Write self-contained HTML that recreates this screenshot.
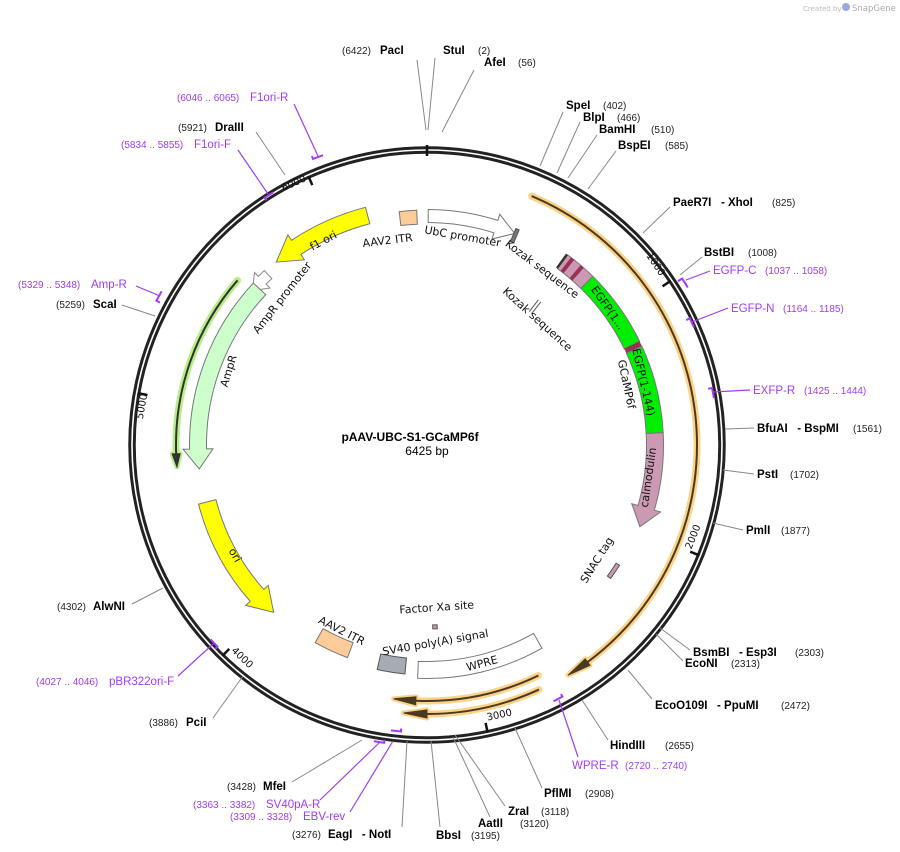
<!DOCTYPE html>
<html><head><meta charset="utf-8"><style>
html,body{margin:0;padding:0;background:#fff;}
svg{display:block;}
text{font-family:"DejaVu Sans","Liberation Sans",sans-serif;}
.b{font-family:"Liberation Sans",sans-serif;font-weight:bold;font-size:11.5px;fill:#000;}
.n{font-family:"Liberation Sans",sans-serif;font-size:10px;fill:#222;}
.p{font-family:"Liberation Sans",sans-serif;font-size:11.5px;fill:#a23cf0;}
.pn{font-family:"Liberation Sans",sans-serif;font-size:10px;fill:#a23cf0;}
.f{font-size:11px;fill:#111;}
.t{font-size:10px;fill:#111;}
</style></head><body>
<svg id="s" width="900" height="852" viewBox="0 0 900 852" xmlns="http://www.w3.org/2000/svg">
<text x="803" y="11" style="font-size:7px;fill:#bbb">Created by</text>
<circle cx="846" cy="7" r="4" fill="#9ad"/>
<text x="852" y="11" style="font-size:8.5px;fill:#aaa">SnapGene</text>
<g id="g"></g>
<g stroke="#888" stroke-width="1" fill="none">
<line x1="426" y1="130" x2="417" y2="60"/><line x1="428" y1="130" x2="435" y2="58"/><line x1="442" y1="132" x2="474" y2="70"/>
<line x1="540" y1="166" x2="563" y2="112"/><line x1="557" y1="173" x2="580" y2="122"/><line x1="568" y1="178" x2="597" y2="135"/><line x1="588" y1="189" x2="616" y2="151"/>
<line x1="643" y1="233" x2="670" y2="207"/><line x1="680" y1="275" x2="702" y2="257"/>
<line x1="725" y1="429" x2="754" y2="428"/><line x1="723" y1="470" x2="754" y2="474"/><line x1="713" y1="523" x2="743" y2="530"/>
<line x1="660" y1="628" x2="690" y2="650"/><line x1="656" y1="634" x2="683" y2="661"/><line x1="628" y1="670" x2="652" y2="699"/><line x1="582" y1="700" x2="608" y2="740"/>
<line x1="515" y1="728" x2="542" y2="788"/><line x1="455" y1="735" x2="505" y2="806"/><line x1="453" y1="737" x2="490" y2="817"/><line x1="431" y1="741" x2="440" y2="827"/><line x1="407" y1="741" x2="402" y2="827"/>
<line x1="362" y1="740" x2="292" y2="782"/><line x1="243" y1="676" x2="213" y2="718"/><line x1="163" y1="588" x2="132" y2="604"/><line x1="155" y1="316" x2="122" y2="305"/>
<line x1="285" y1="175" x2="256" y2="132"/>
</g>
<g stroke="#a23cf0" stroke-width="1.2" fill="none">
<line x1="318" y1="156" x2="294" y2="104"/><line x1="268" y1="194" x2="238" y2="150"/><line x1="160" y1="296" x2="136" y2="286"/>
<line x1="686" y1="280" x2="710" y2="271"/><line x1="692" y1="322" x2="728" y2="308"/><line x1="713" y1="392" x2="750" y2="390"/>
<line x1="559" y1="700" x2="578" y2="757"/><line x1="213" y1="644" x2="178" y2="676"/><line x1="380" y1="742" x2="320" y2="800"/><line x1="393" y1="741" x2="350" y2="812"/>
</g>
<text x="342" y="54" class="n">(6422)</text><text x="380" y="54" class="b">PacI</text>
<text x="443" y="54" class="b">StuI</text><text x="478" y="54" class="n">(2)</text>
<text x="484" y="66" class="b">AfeI</text><text x="518" y="66" class="n">(56)</text>
<text x="566" y="109" class="b">SpeI</text><text x="603" y="109" class="n">(402)</text>
<text x="583" y="121" class="b">BlpI</text><text x="617" y="121" class="n">(466)</text>
<text x="599" y="133" class="b">BamHI</text><text x="651" y="133" class="n">(510)</text>
<text x="618" y="149" class="b">BspEI</text><text x="665" y="149" class="n">(585)</text>
<text x="673" y="206" class="b" xml:space="preserve">PaeR7I   - XhoI</text><text x="772" y="206" class="n">(825)</text>
<text x="704" y="256" class="b">BstBI</text><text x="748" y="256" class="n">(1008)</text>
<text x="713" y="274" class="p">EGFP-C</text><text x="765" y="274" class="pn">(1037 .. 1058)</text>
<text x="731" y="312" class="p">EGFP-N</text><text x="783" y="312" class="pn">(1164 .. 1185)</text>
<text x="753" y="394" class="p">EXFP-R</text><text x="804" y="394" class="pn">(1425 .. 1444)</text>
<text x="757" y="432" class="b" xml:space="preserve">BfuAI   - BspMI</text><text x="853" y="432" class="n">(1561)</text>
<text x="757" y="478" class="b">PstI</text><text x="790" y="478" class="n">(1702)</text>
<text x="746" y="534" class="b">PmlI</text><text x="781" y="534" class="n">(1877)</text>
<text x="693" y="656" class="b" xml:space="preserve">BsmBI   - Esp3I</text><text x="795" y="656" class="n">(2303)</text>
<text x="685" y="667" class="b">EcoNI</text><text x="731" y="667" class="n">(2313)</text>
<text x="655" y="709" class="b" xml:space="preserve">EcoO109I   - PpuMI</text><text x="781" y="709" class="n">(2472)</text>
<text x="610" y="749" class="b">HindIII</text><text x="665" y="749" class="n">(2655)</text>
<text x="572" y="769" class="p">WPRE-R</text><text x="625" y="769" class="pn">(2720 .. 2740)</text>
<text x="544" y="797" class="b">PflMI</text><text x="585" y="797" class="n">(2908)</text>
<text x="508" y="815" class="b">ZraI</text><text x="541" y="815" class="n">(3118)</text>
<text x="478" y="827" class="b">AatII</text><text x="520" y="827" class="n">(3120)</text>
<text x="436" y="839" class="b">BbsI</text><text x="471" y="839" class="n">(3195)</text>
<text x="292" y="838" class="n">(3276)</text><text x="328" y="838" class="b" xml:space="preserve">EagI   - NotI</text>
<text x="230" y="820" class="pn">(3309 .. 3328)</text><text x="303" y="820" class="p">EBV-rev</text>
<text x="193" y="808" class="pn">(3363 .. 3382)</text><text x="266" y="808" class="p">SV40pA-R</text>
<text x="227" y="790" class="n">(3428)</text><text x="263" y="790" class="b">MfeI</text>
<text x="149" y="726" class="n">(3886)</text><text x="186" y="726" class="b">PciI</text>
<text x="36" y="685" class="pn">(4027 .. 4046)</text><text x="109" y="685" class="p">pBR322ori-F</text>
<text x="57" y="610" class="n">(4302)</text><text x="93" y="610" class="b">AlwNI</text>
<text x="56" y="308" class="n">(5259)</text><text x="93" y="308" class="b">ScaI</text>
<text x="18" y="288" class="pn">(5329 .. 5348)</text><text x="91" y="288" class="p">Amp-R</text>
<text x="121" y="148" class="pn">(5834 .. 5855)</text><text x="194" y="148" class="p">F1ori-F</text>
<text x="178" y="131" class="n">(5921)</text><text x="215" y="131" class="b">DraIII</text>
<text x="177" y="101" class="pn">(6046 .. 6065)</text><text x="250" y="101" class="p">F1ori-R</text>
<text x="410" y="441" text-anchor="middle" style="font-family:'Liberation Sans',sans-serif;font-size:12px;font-weight:bold">pAAV-UBC-S1-GCaMP6f</text>
<text x="427" y="455" text-anchor="middle" style="font-family:'Liberation Sans',sans-serif;font-size:12px">6425 bp</text>
<text class="f" transform="translate(462,240) rotate(10)" text-anchor="middle">UbC promoter</text>
<text class="f" transform="translate(540,272) rotate(37)" text-anchor="middle">Kozak sequence</text>
<text class="f" transform="translate(535,322) rotate(42)" text-anchor="middle">Kozak sequence</text>
<text class="f" transform="translate(623,385) rotate(78)" text-anchor="middle">GCaMP6f</text>
<text class="f" transform="translate(605,310) rotate(55)" text-anchor="middle">EGFP(1...</text>
<text class="f" transform="translate(640,383) rotate(77)" text-anchor="middle">EGFP(1-144)</text>
<text class="f" transform="translate(652,478) rotate(-82)" text-anchor="middle">calmodulin</text>
<text class="f" transform="translate(600,562) rotate(-58)" text-anchor="middle">SNAC tag</text>
<text class="f" transform="translate(388,244) rotate(-7)" text-anchor="middle">AAV2 ITR</text>
<text class="f" transform="translate(325,244) rotate(-28)" text-anchor="middle">f1 ori</text>
<text class="f" transform="translate(285,300) rotate(-52)" text-anchor="middle">AmpR promoter</text>
<text class="f" transform="translate(232,372) rotate(-73)" text-anchor="middle">AmpR</text>
<text class="f" transform="translate(232,557) rotate(60)" text-anchor="middle">ori</text>
<text class="f" transform="translate(340,634) rotate(27)" text-anchor="middle">AAV2 ITR</text>
<text class="f" transform="translate(437,611) rotate(-4)" text-anchor="middle">Factor Xa site</text>
<text class="f" transform="translate(436,646) rotate(-10)" text-anchor="middle">SV40 poly(A) signal</text>
<text class="f" transform="translate(483,667) rotate(-15)" text-anchor="middle">WPRE</text>
<text class="t" transform="translate(653,266) rotate(56)" text-anchor="middle">1000</text>
<text class="t" transform="translate(696,538) rotate(-68)" text-anchor="middle">2000</text>
<text class="t" transform="translate(500,718) rotate(-12)" text-anchor="middle">3000</text>
<text class="t" transform="translate(240,660) rotate(44)" text-anchor="middle">4000</text>
<text class="t" transform="translate(145,407) rotate(-80)" text-anchor="middle">5000</text>
<text class="t" transform="translate(295,186) rotate(-24)" text-anchor="middle">6000</text>
</svg>
<script>
var CX=427,CY=445,NS="http://www.w3.org/2000/svg",G=document.getElementById("g");
function P(r,a){a=a*Math.PI/180;return [CX+r*Math.sin(a),CY-r*Math.cos(a)];}
function f(p){return p[0].toFixed(2)+","+p[1].toFixed(2);}
function arc(r,a1,a2){var s=a2>a1?1:0,l=Math.abs(a2-a1)>180?1:0;return "A"+r+","+r+" 0 "+l+" "+s+" "+f(P(r,a2));}
function add(d,fill,stroke,sw,extra){var e=document.createElementNS(NS,"path");e.setAttribute("d",d);e.setAttribute("fill",fill);e.setAttribute("stroke",stroke);e.setAttribute("stroke-width",sw);if(extra)for(var k in extra)e.setAttribute(k,extra[k]);G.appendChild(e);return e;}
function band(a1,a2,r,w,fill,st){var ro=r+w/2,ri=r-w/2;add("M"+f(P(ro,a1))+arc(ro,a1,a2)+"L"+f(P(ri,a2))+arc(ri,a2,a1)+"Z",fill,st||"#777",1);}
function arrow(a1,a2,r,w,h,hw,fill,st){var d=a2>a1?1:-1,ab=a2-d*h,ro=r+w/2,ri=r-w/2;
 add("M"+f(P(ro,a1))+arc(ro,a1,ab)+"L"+f(P(r+hw/2,ab))+"L"+f(P(r,a2))+"L"+f(P(r-hw/2,ab))+"L"+f(P(ri,ab))+arc(ri,ab,a1)+"Z",fill,st||"#777",1);}
function line(a1,a2,r,glow,col,h){var d=a2>a1?1:-1,ab=a2-d*h;
 var p="M"+f(P(r,a1))+arc(r,a1,ab);
 var hd="M"+f(P(r+4,ab))+"L"+f(P(r,a2))+"L"+f(P(r-4,ab))+"Z";
 add(p,"none",glow,7,{"stroke-linecap":"round"});add(hd,glow,glow,5,{"stroke-linejoin":"round"});
 add(p,"none",col,2);add(hd,col,col,1);}
var c=document.createElementNS(NS,"circle");c.setAttribute("cx",CX);c.setAttribute("cy",CY);c.setAttribute("r",295);c.setAttribute("fill","none");c.setAttribute("stroke","#222");c.setAttribute("stroke-width",7.5);G.appendChild(c);
c=c.cloneNode();c.setAttribute("stroke","#fff");c.setAttribute("stroke-width",1.6);G.appendChild(c);
for(var i=0;i<7;i++){var a=i*1000/6425*360;add("M"+f(P(i?284:289,a))+"L"+f(P(i?294:300,a)),"none","#111",2.5);}
line(22.8,148.5,270,"#fdd28a","#4a3a1e",5);
line(154.2,187.5,256,"#fdd28a","#4a3a1e",5);
line(155.4,185,269,"#fdd28a","#4a3a1e",5);
line(-49,-95,251,"#b8ee88","#333",3);
arrow(0.3,22.5,229,13,5,26,"#fff");
band(22.3,23.2,227,14,"#777","#555");
band(-6.8,-2.5,228,14,"#ffcc99");
arrow(-14.5,-39.5,237,17,6,30,"#ffff00");
arrow(-43,-48.5,233,11,3.5,22,"#fff","#888");
arrow(-47,-96,229,17,5,30,"#ccffcc");
arrow(-104.5,-137.5,227,18,6,30,"#ffff00");
band(200.5,209.5,219,16,"#ffcc99");
band(185.5,192.5,222,16,"#a6acb3","#555");
band(150.5,182.3,225,17,"#fff");
band(176.8,178.2,182,4,"#cc99b2","#555");
band(122,126,225,4,"#cc99b2","#555");
band(36.5,44.5,228,17,"#cc99b2");
band(37.5,38.5,228,17,"#993355","none");band(40.5,41.5,228,17,"#993355","none");
band(44.5,64,228,17,"#00ee00");
band(64,65.3,228,17,"#993355","none");
band(65.3,87,228,17,"#00ee00");
arrow(87,111,228,17,5,30,"#cc99b2");
band(36,36.6,228,17,"#333","none");
add("M"+f(P(183,37.5))+"L"+f(P(168,37.5)),"none","#555",1);add("M"+f(P(183,38.5))+"L"+f(P(168,38.5)),"none","#555",1);
function pm(px,py,span,hook){var dx=px-CX,dy=py-CY,r=Math.sqrt(dx*dx+dy*dy),a=Math.atan2(dx,-dy)*180/Math.PI;
 add("M"+f(P(r+hook,a-span))+"L"+f(P(r,a-span))+arc(r,a-span,a+span),"none","#a23cf0",2);}
pm(318,157,1,3);pm(269,195,1,-3);pm(159,296,1,-4);pm(685,283,1,-5);pm(692,323,1,-4);pm(713,393,1,-4);pm(558,699,1,-3);pm(214,643,1,3);pm(379,742,1,-3);pm(396,731,1,-3);
</script>
</body></html>
